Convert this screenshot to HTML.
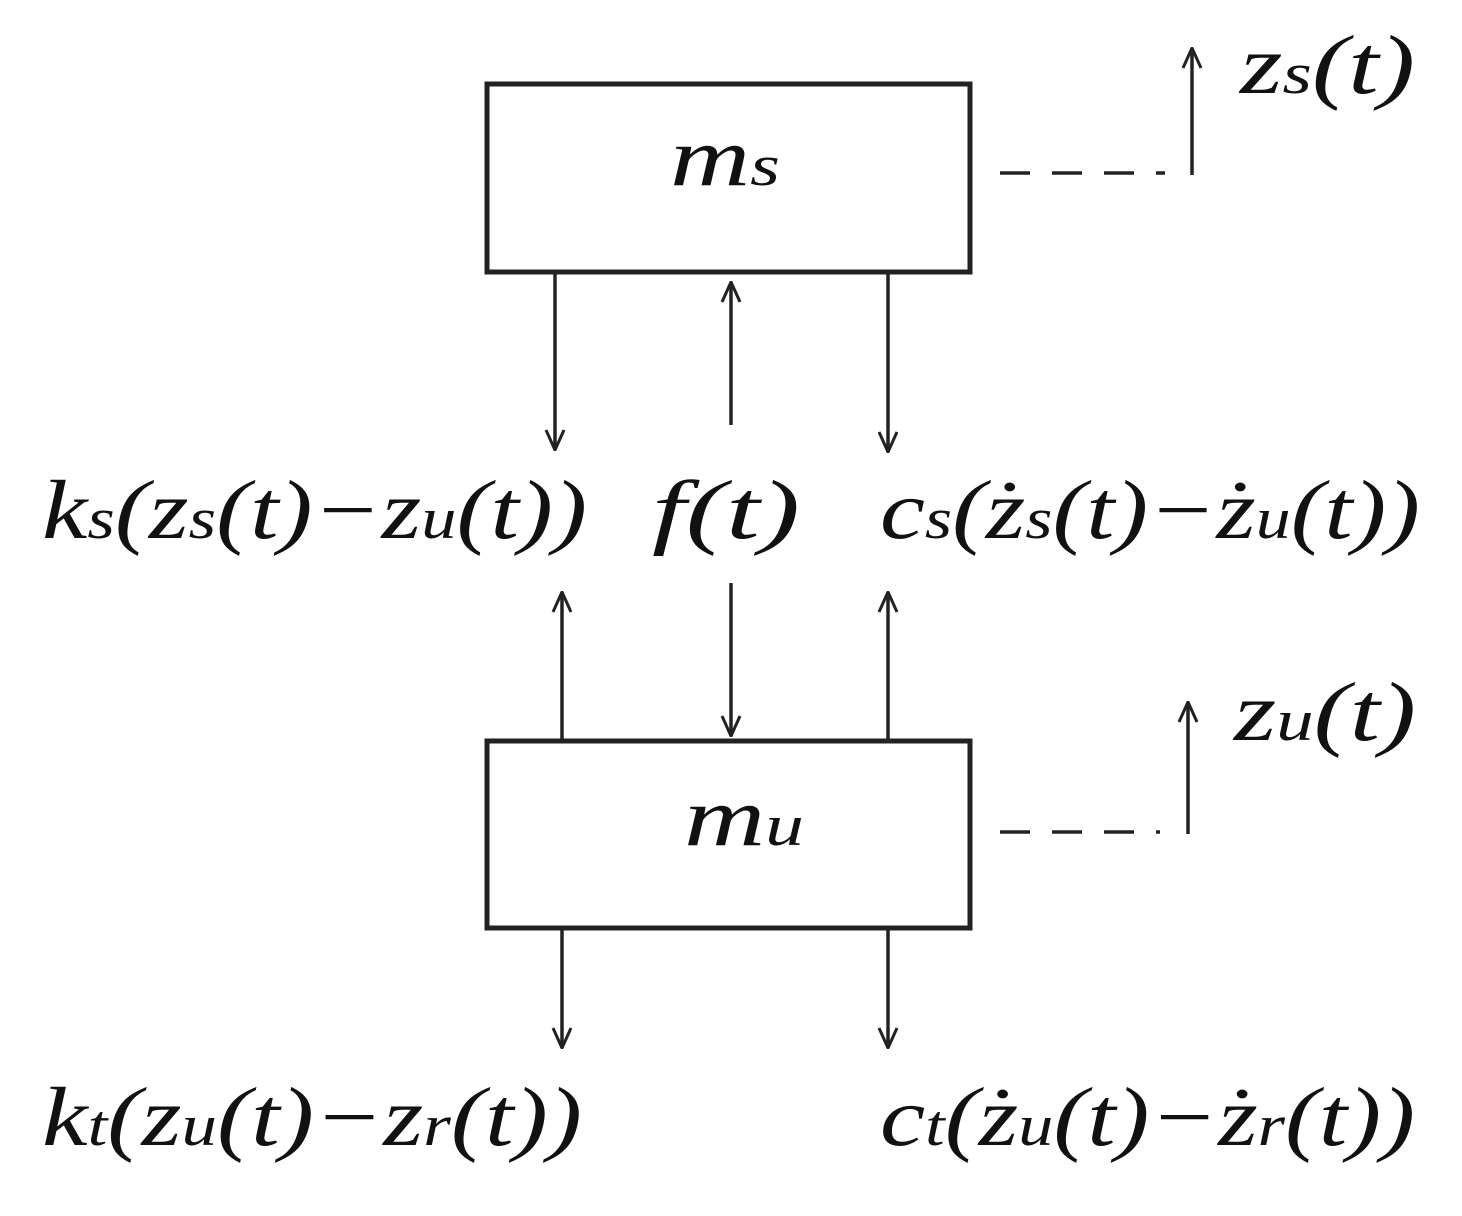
<!DOCTYPE html>
<html><head><style>
body{margin:0;background:#fff}
svg text{font-family:"Liberation Serif",serif;font-style:italic;fill:#111}
</style></head><body>
<svg width="1462" height="1211" viewBox="0 0 1462 1211" xmlns="http://www.w3.org/2000/svg">
<defs><marker id="a" viewBox="0 0 22 22" refX="21" refY="11" markerWidth="22" markerHeight="22" markerUnits="userSpaceOnUse" orient="auto"><path d="M1,2 L21,11 L1,20" fill="none" stroke="#222" stroke-width="3"/></marker></defs>
<g fill="none" stroke="#222" stroke-width="5">
<rect x="487" y="84" width="483" height="188"/>
<rect x="487" y="741" width="483" height="187"/>
</g>
<g stroke="#222" stroke-width="3.5" fill="none">
<line x1="555" y1="274" x2="555" y2="450" marker-end="url(#a)"/>
<line x1="731" y1="425" x2="731" y2="282" marker-end="url(#a)"/>
<line x1="888" y1="274" x2="888" y2="452" marker-end="url(#a)"/>
<line x1="562" y1="740" x2="562" y2="592" marker-end="url(#a)"/>
<line x1="731" y1="583" x2="731" y2="736" marker-end="url(#a)"/>
<line x1="888" y1="740" x2="888" y2="592" marker-end="url(#a)"/>
<line x1="562" y1="930" x2="562" y2="1048" marker-end="url(#a)"/>
<line x1="888" y1="930" x2="888" y2="1048" marker-end="url(#a)"/>
<line x1="1000" y1="173" x2="1165" y2="173" stroke-dasharray="30,22"/>
<line x1="1192" y1="175" x2="1192" y2="48" marker-end="url(#a)"/>
<line x1="1000" y1="832" x2="1160" y2="832" stroke-dasharray="30,22"/>
<line x1="1188" y1="834" x2="1188" y2="702" marker-end="url(#a)"/>
</g>
<g font-size="84">
<text x="670" y="185" textLength="110" lengthAdjust="spacingAndGlyphs">m<tspan font-size="58">s</tspan></text>
<text x="684" y="845" textLength="120" lengthAdjust="spacingAndGlyphs">m<tspan font-size="58">u</tspan></text>
<text x="1240" y="93" textLength="175" lengthAdjust="spacingAndGlyphs">z<tspan font-size="58">s</tspan>(t)</text>
<text x="1234" y="740" textLength="182" lengthAdjust="spacingAndGlyphs">z<tspan font-size="58">u</tspan>(t)</text>
<text x="42" y="538" textLength="545" lengthAdjust="spacingAndGlyphs">k<tspan font-size="58">s</tspan>(z<tspan font-size="58">s</tspan>(t)−z<tspan font-size="58">u</tspan>(t))</text>
<text x="652" y="538" textLength="148" lengthAdjust="spacingAndGlyphs">f(t)</text>
<text x="880" y="538" textLength="540" lengthAdjust="spacingAndGlyphs">c<tspan font-size="58">s</tspan>(ż<tspan font-size="58">s</tspan>(t)−ż<tspan font-size="58">u</tspan>(t))</text>
<text x="42" y="1145" textLength="540" lengthAdjust="spacingAndGlyphs">k<tspan font-size="58">t</tspan>(z<tspan font-size="58">u</tspan>(t)−z<tspan font-size="58">r</tspan>(t))</text>
<text x="880" y="1145" textLength="535" lengthAdjust="spacingAndGlyphs">c<tspan font-size="58">t</tspan>(ż<tspan font-size="58">u</tspan>(t)−ż<tspan font-size="58">r</tspan>(t))</text>
</g>
</svg>
</body></html>
